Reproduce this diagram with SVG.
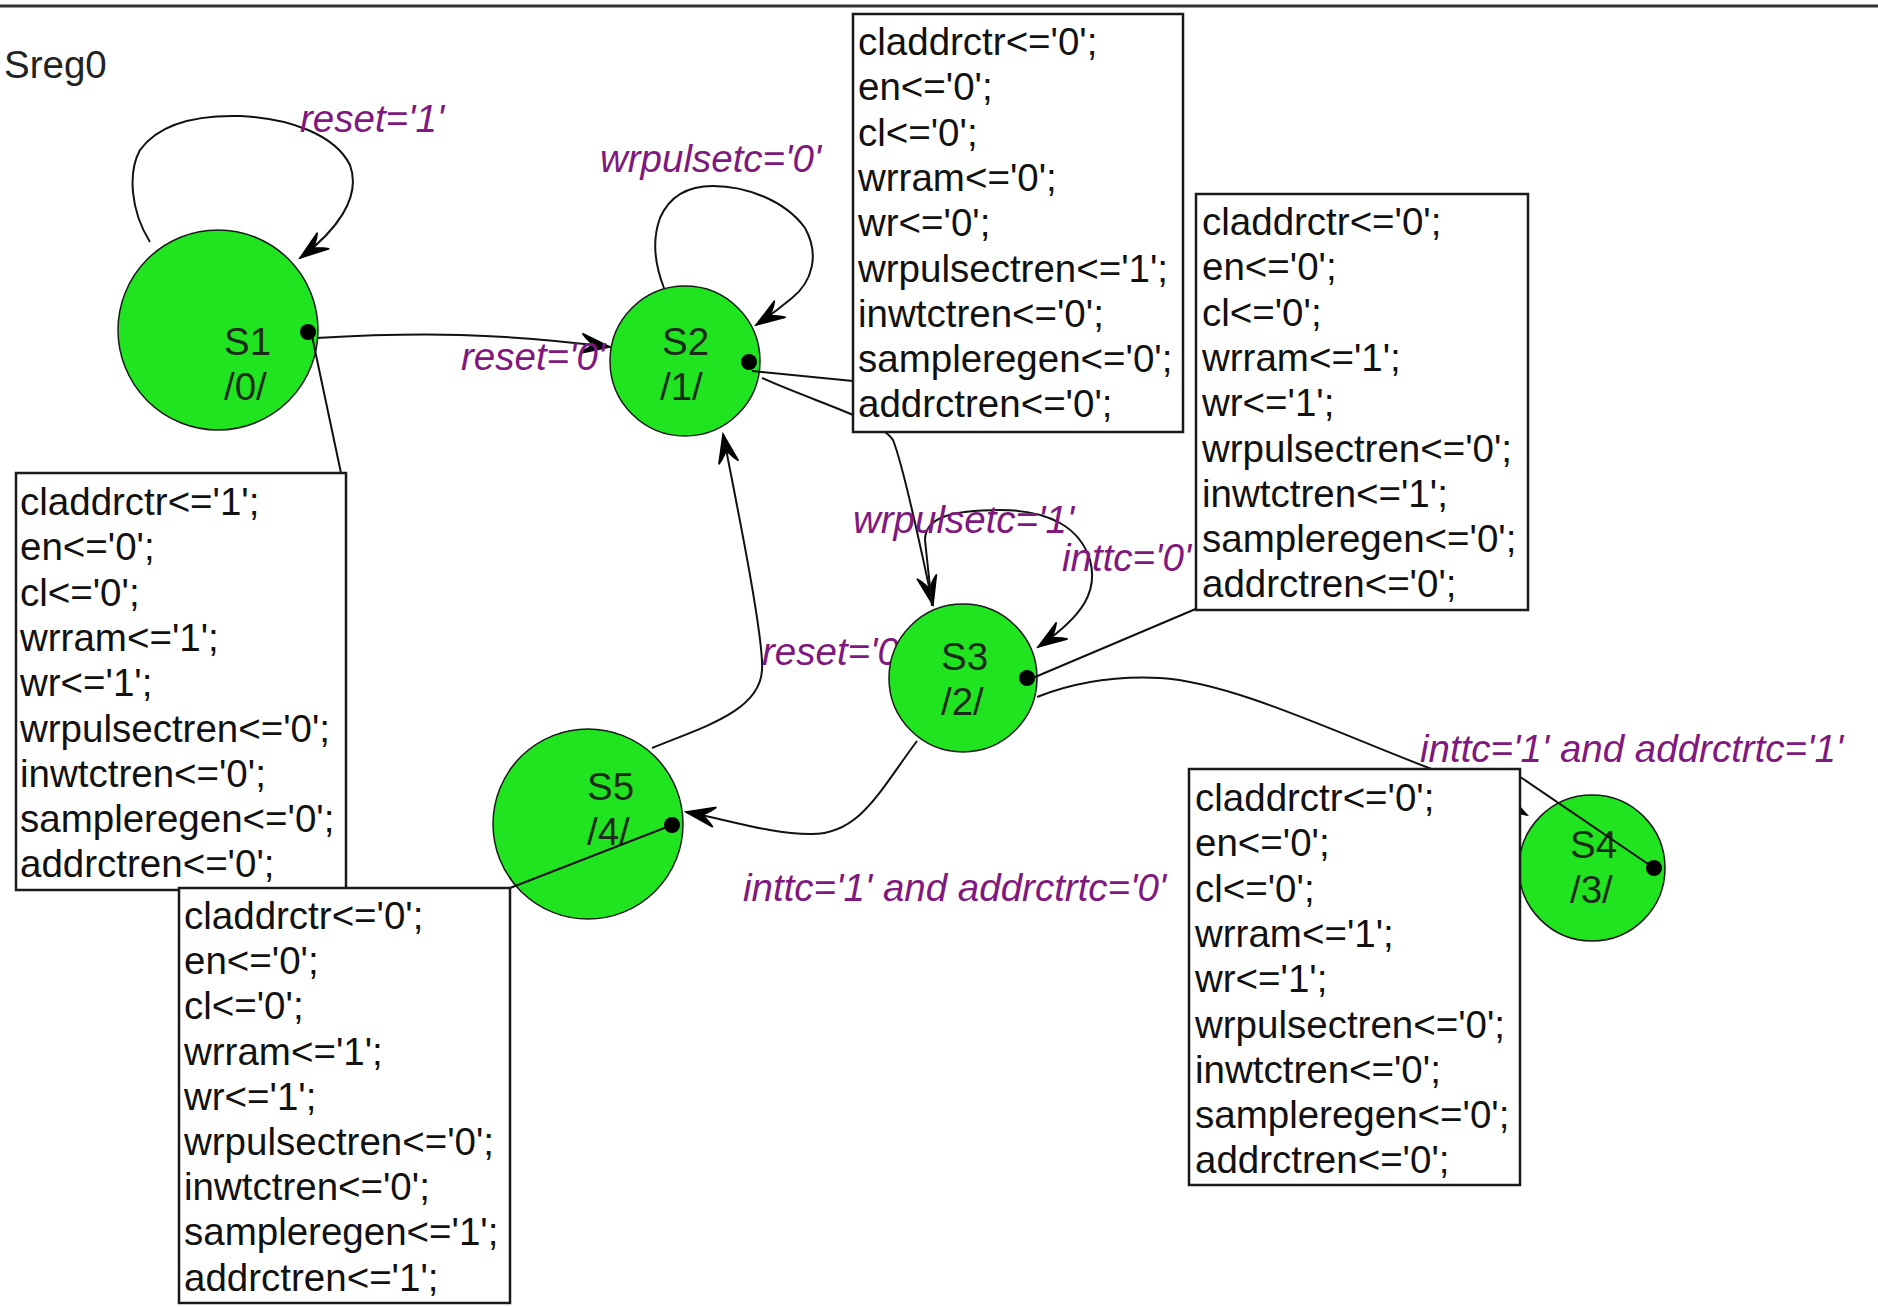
<svg xmlns="http://www.w3.org/2000/svg" width="1878" height="1307" viewBox="0 0 1878 1307">
<style>
.bg{fill:#ffffff}
.frame{stroke:#333;stroke-width:3;fill:none}
.st{fill:#1fe41f;stroke:#1a1a1a;stroke-width:1.5}
.sl{font-family:"Liberation Sans",Arial,sans-serif;font-size:38.5px;fill:#1c2a1c}
.box{fill:#ffffff;stroke:#1a1a1a;stroke-width:2.5}
.bt{font-family:"Liberation Sans",Arial,sans-serif;font-size:38.5px;fill:#111}
.lbl{font-family:"Liberation Sans",Arial,sans-serif;font-size:38.5px;font-style:italic;fill:#80187f}
.tr{fill:none;stroke:#111;stroke-width:2}
.at{fill:none;stroke:#111;stroke-width:2}
.dot{fill:#000}
.title{font-family:"Liberation Sans",Arial,sans-serif;font-size:38.5px;fill:#222}
</style>
<defs>
<marker id="arr" markerWidth="34" markerHeight="24" refX="31" refY="12" orient="auto" markerUnits="userSpaceOnUse">
<path d="M31,12 L2,2 L6,6 L14,12 L6,18 L2,22 Z" fill="#000" stroke="#000" stroke-width="1.5" stroke-linejoin="miter"/>
</marker>
</defs>
<rect class="bg" x="0" y="0" width="1878" height="1307"/>
<line class="frame" x1="0" y1="6" x2="1878" y2="6"/>
<text class="title" x="4" y="78">Sreg0</text>

<g id="connectors">
<path id="t-s1-s1" class="tr" d="M150,242 C130,210 128,172 140,150 C160,122 200,115 240,116 C290,118 335,135 350,165 C362,198 335,232 300,258" marker-end="url(#arr)"/>
<path id="t-s1-s2" class="tr" d="M316,338 C420,332 500,333 610,347" marker-end="url(#arr)"/>
<path id="t-s2-s2" class="tr" d="M664,288 C655,265 652,240 660,218 C670,195 690,186 713,186 C745,186 785,200 805,228 C820,255 812,282 792,298 C780,308 768,317 756,325" marker-end="url(#arr)"/>
<path id="t-s2-s3" class="tr" d="M762,378 C815,402 880,420 893,440 C905,470 922,555 933,605" marker-end="url(#arr)"/>
<path id="t-s3-s3" class="tr" d="M932,606 L925,540 C925,518 950,510 1000,510 C1050,510 1080,528 1090,560 C1098,590 1085,615 1038,647" marker-end="url(#arr)"/>
<path id="t-s3-s4" class="tr" d="M1037,697 C1080,680 1120,676 1160,678 C1230,682 1330,730 1429,768 C1470,785 1500,800 1527,815" marker-end="url(#arr)"/>
<path id="t-s3-s5" class="tr" d="M917,741 C880,790 860,835 810,834 C770,834 730,820 686,812" marker-end="url(#arr)"/>
<path id="t-s5-s2" class="tr" d="M652,748 C700,728 760,712 762,670 C764,640 740,520 723,434" marker-end="url(#arr)"/>
</g>

<g id="labels">
<text class="lbl" x="300" y="132">reset='1'</text>
<text class="lbl" x="461" y="370">reset='0'</text>
<text class="lbl" x="600" y="172">wrpulsetc='0'</text>
<text class="lbl" x="853" y="533">wrpulsetc='1'</text>
<text class="lbl" x="1062" y="571">inttc='0'</text>
<text class="lbl" x="762" y="665">reset='0'</text>
<text class="lbl" x="743" y="901">inttc='1' and addrctrtc='0'</text>
<text class="lbl" x="1420" y="762">inttc='1' and addrctrtc='1'</text>
</g>

<g id="S1">
<circle class="st" cx="218" cy="330" r="100"/>
<text class="sl" x="224" y="355">S1</text>
<text class="sl" x="224" y="400">/0/</text>
</g>
<g id="S2">
<circle class="st" cx="685" cy="361" r="75"/>
<text class="sl" x="662" y="355">S2</text>
<text class="sl" x="660" y="400">/1/</text>
</g>
<g id="S3">
<circle class="st" cx="963" cy="678" r="74"/>
<text class="sl" x="941" y="670">S3</text>
<text class="sl" x="941" y="715">/2/</text>
</g>
<g id="S4">
<circle class="st" cx="1592" cy="868" r="73"/>
<text class="sl" x="1570" y="858">S4</text>
<text class="sl" x="1570" y="903">/3/</text>
</g>
<g id="S5">
<circle class="st" cx="588" cy="824" r="95"/>
<text class="sl" x="587" y="800">S5</text>
<text class="sl" x="587" y="845">/4/</text>
</g>

<g id="attachments">
<path class="at" d="M312,336 L341,473"/>
<path class="at" d="M752,371 L853,381"/>
<path class="at" d="M1028,680 L1198,608"/>
<path class="at" d="M1654,868 L1510,770"/>
<path class="at" d="M672,825 L510,888"/>
<circle class="dot" cx="308" cy="332" r="8"/>
<circle class="dot" cx="749" cy="362" r="8"/>
<circle class="dot" cx="1027" cy="678" r="8"/>
<circle class="dot" cx="1654" cy="868" r="8"/>
<circle class="dot" cx="672" cy="825" r="8"/>
</g>

<g id="box-S2">
<rect class="box" x="853" y="14" width="330" height="418"/>
<text class="bt" x="858" y="55"><tspan x="858">claddrctr&lt;='0';</tspan><tspan x="858" dy="45.3">en&lt;='0';</tspan><tspan x="858" dy="45.3">cl&lt;='0';</tspan><tspan x="858" dy="45.3">wrram&lt;='0';</tspan><tspan x="858" dy="45.3">wr&lt;='0';</tspan><tspan x="858" dy="45.3">wrpulsectren&lt;='1';</tspan><tspan x="858" dy="45.3">inwtctren&lt;='0';</tspan><tspan x="858" dy="45.3">sampleregen&lt;='0';</tspan><tspan x="858" dy="45.3">addrctren&lt;='0';</tspan></text>
</g>
<g id="box-S1">
<rect class="box" x="16" y="473" width="330" height="417"/>
<text class="bt" x="20" y="515"><tspan x="20">claddrctr&lt;='1';</tspan><tspan x="20" dy="45.3">en&lt;='0';</tspan><tspan x="20" dy="45.3">cl&lt;='0';</tspan><tspan x="20" dy="45.3">wrram&lt;='1';</tspan><tspan x="20" dy="45.3">wr&lt;='1';</tspan><tspan x="20" dy="45.3">wrpulsectren&lt;='0';</tspan><tspan x="20" dy="45.3">inwtctren&lt;='0';</tspan><tspan x="20" dy="45.3">sampleregen&lt;='0';</tspan><tspan x="20" dy="45.3">addrctren&lt;='0';</tspan></text>
</g>
<g id="box-S3">
<rect class="box" x="1196" y="194" width="332" height="416"/>
<text class="bt" x="1202" y="235"><tspan x="1202">claddrctr&lt;='0';</tspan><tspan x="1202" dy="45.3">en&lt;='0';</tspan><tspan x="1202" dy="45.3">cl&lt;='0';</tspan><tspan x="1202" dy="45.3">wrram&lt;='1';</tspan><tspan x="1202" dy="45.3">wr&lt;='1';</tspan><tspan x="1202" dy="45.3">wrpulsectren&lt;='0';</tspan><tspan x="1202" dy="45.3">inwtctren&lt;='1';</tspan><tspan x="1202" dy="45.3">sampleregen&lt;='0';</tspan><tspan x="1202" dy="45.3">addrctren&lt;='0';</tspan></text>
</g>
<g id="box-S4">
<rect class="box" x="1189" y="769" width="331" height="416"/>
<text class="bt" x="1195" y="811"><tspan x="1195">claddrctr&lt;='0';</tspan><tspan x="1195" dy="45.3">en&lt;='0';</tspan><tspan x="1195" dy="45.3">cl&lt;='0';</tspan><tspan x="1195" dy="45.3">wrram&lt;='1';</tspan><tspan x="1195" dy="45.3">wr&lt;='1';</tspan><tspan x="1195" dy="45.3">wrpulsectren&lt;='0';</tspan><tspan x="1195" dy="45.3">inwtctren&lt;='0';</tspan><tspan x="1195" dy="45.3">sampleregen&lt;='0';</tspan><tspan x="1195" dy="45.3">addrctren&lt;='0';</tspan></text>
</g>
<g id="box-S5">
<rect class="box" x="179" y="888" width="331" height="415"/>
<text class="bt" x="184" y="929"><tspan x="184">claddrctr&lt;='0';</tspan><tspan x="184" dy="45.2">en&lt;='0';</tspan><tspan x="184" dy="45.2">cl&lt;='0';</tspan><tspan x="184" dy="45.2">wrram&lt;='1';</tspan><tspan x="184" dy="45.2">wr&lt;='1';</tspan><tspan x="184" dy="45.2">wrpulsectren&lt;='0';</tspan><tspan x="184" dy="45.2">inwtctren&lt;='0';</tspan><tspan x="184" dy="45.2">sampleregen&lt;='1';</tspan><tspan x="184" dy="45.2">addrctren&lt;='1';</tspan></text>
</g>
</svg>
